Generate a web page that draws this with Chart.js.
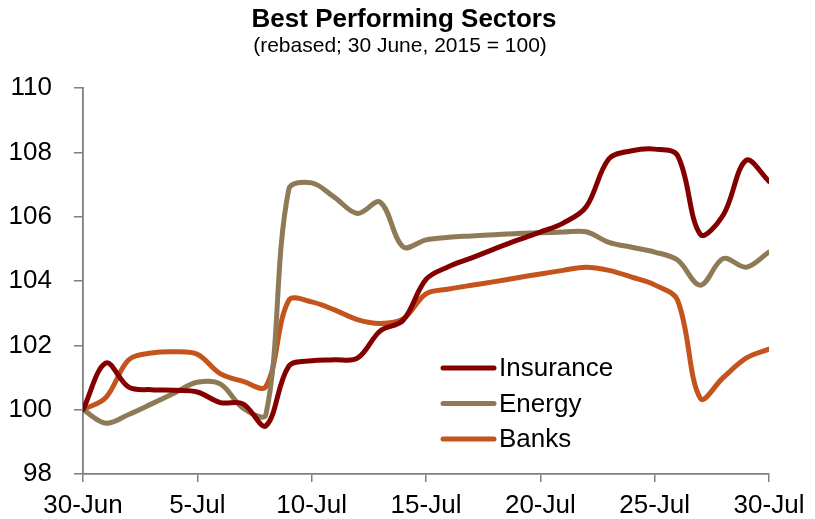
<!DOCTYPE html>
<html>
<head>
<meta charset="utf-8">
<script src="https://cdn.jsdelivr.net/npm/chart.js@4/dist/chart.umd.min.js"></script>
<style>
  html, body { margin: 0; padding: 0; background: #ffffff; }
  #wrap { width: 815px; height: 519px; }
</style>
</head>
<body>
<div id="wrap"><canvas id="c" width="815" height="519"></canvas></div>
<script>
// Trading days, 30 June to 30 July 2015
const dates = ['30-Jun','1-Jul','2-Jul','3-Jul','4-Jul','5-Jul','6-Jul','7-Jul','8-Jul','9-Jul',
  '10-Jul','11-Jul','12-Jul','13-Jul','14-Jul','15-Jul','16-Jul','17-Jul','18-Jul','19-Jul',
  '20-Jul','21-Jul','22-Jul','23-Jul','24-Jul','25-Jul','26-Jul','27-Jul','28-Jul','29-Jul','30-Jul'];

// Sector indices, rebased to 30 June 2015 = 100
const insurance = [100, 101.45, 100.7, 100.62, 100.6, 100.55, 100.22, 100.18, 99.5, 101.35,
  101.52, 101.55, 101.6, 102.45, 102.78, 104.05, 104.45, 104.72, 105.0, 105.27,
  105.52, 105.8, 106.3, 107.8, 108.05, 108.1, 107.9, 105.45, 106.05, 107.75, 107.1];
const energy = [100, 99.58, 99.85, 100.18, 100.52, 100.85, 100.8, 100.05, 99.85, 106.85,
  107.05, 106.6, 106.1, 106.45, 105.06, 105.28, 105.36, 105.4, 105.44, 105.48,
  105.5, 105.52, 105.53, 105.2, 105.05, 104.9, 104.65, 103.87, 104.7, 104.43, 104.9];
const banks = [100, 100.38, 101.55, 101.76, 101.8, 101.72, 101.12, 100.88, 100.72, 103.4,
  103.35, 103.1, 102.8, 102.68, 102.82, 103.6, 103.75, 103.87, 103.98, 104.1,
  104.22, 104.33, 104.43, 104.33, 104.12, 103.88, 103.4, 100.35, 101.0, 101.6, 101.88];

const seriesNames = ['Insurance', 'Energy', 'Banks'];
const seriesValues = [insurance, energy, banks];
const seriesColors = ['#840000', '#8e7a56', '#c4541b'];

const yTicks = [98, 100, 102, 104, 106, 108, 110];

const titleText = 'Best Performing Sectors';
const subtitleText = '(rebased; 30 June, 2015 = 100)';

const FONT = '"Liberation Sans", Arial, Helvetica, sans-serif';
const AXIS_GREY = '#7f7f7f';

const datasets = seriesNames.map((name, i) => ({
  label: name,
  data: seriesValues[i].map((v, d) => ({ x: d, y: v })),
  borderColor: seriesColors[i],
  backgroundColor: seriesColors[i],
  borderWidth: 5,
  borderCapStyle: 'round',
  borderJoinStyle: 'round',
  pointRadius: 0,
  tension: 0.35,
  fill: false
}));

// Title and subtitle centred above the plot
const headerPlugin = {
  id: 'header',
  afterDraw(chart) {
    const ctx = chart.ctx;
    ctx.save();
    ctx.fillStyle = '#000000';
    ctx.textAlign = 'center';
    ctx.textBaseline = 'middle';
    ctx.font = 'bold 26px ' + FONT;
    ctx.fillText(titleText, 404, 20);
    ctx.font = '21px ' + FONT;
    ctx.fillText(subtitleText, 400, 46);
    ctx.restore();
  }
};

// Legend drawn inside the plot area, lower middle
const legendPlugin = {
  id: 'insideLegend',
  afterDatasetsDraw(chart) {
    const ctx = chart.ctx;
    ctx.save();
    chart.data.datasets.forEach((ds, i) => {
      const y = 368 + i * 35.5;
      ctx.strokeStyle = ds.borderColor;
      ctx.lineWidth = 5;
      ctx.lineCap = 'round';
      ctx.beginPath();
      ctx.moveTo(443, y);
      ctx.lineTo(494, y);
      ctx.stroke();
      ctx.fillStyle = '#000000';
      ctx.font = '26px ' + FONT;
      ctx.textAlign = 'left';
      ctx.textBaseline = 'middle';
      ctx.fillText(ds.label, 499, y + 1);
    });
    ctx.restore();
  }
};

new Chart(document.getElementById('c'), {
  type: 'line',
  data: { datasets },
  plugins: [headerPlugin, legendPlugin],
  options: {
    responsive: false,
    animation: false,
    layout: { padding: { top: 88, right: 46, left: 0, bottom: 0 } },
    plugins: {
      legend: { display: false },
      title: { display: false },
      tooltip: { enabled: false }
    },
    scales: {
      x: {
        type: 'linear',
        min: 0,
        max: dates.length - 1,
        afterFit(scale) { scale.height = 45; },
        grid: { drawOnChartArea: false, drawTicks: true, tickLength: 8, color: AXIS_GREY, lineWidth: 1.5 },
        border: { display: true, color: AXIS_GREY, width: 1.8 },
        ticks: {
          stepSize: 5,
          autoSkip: false,
          maxRotation: 0,
          padding: 8,
          color: '#000000',
          font: { family: FONT, size: 26 },
          callback: (v) => dates[v]
        }
      },
      y: {
        min: yTicks[0],
        max: yTicks[yTicks.length - 1],
        afterFit(scale) { scale.width = 83; },
        afterBuildTicks(scale) { scale.ticks = yTicks.map(v => ({ value: v })); },
        grid: { drawOnChartArea: false, drawTicks: true, tickLength: 9, color: AXIS_GREY, lineWidth: 1.5 },
        border: { display: true, color: AXIS_GREY, width: 1.8 },
        ticks: {
          padding: 22,
          color: '#000000',
          font: { family: FONT, size: 26 },
          callback: (v) => String(v)
        }
      }
    }
  }
});
</script>
</body>
</html>
